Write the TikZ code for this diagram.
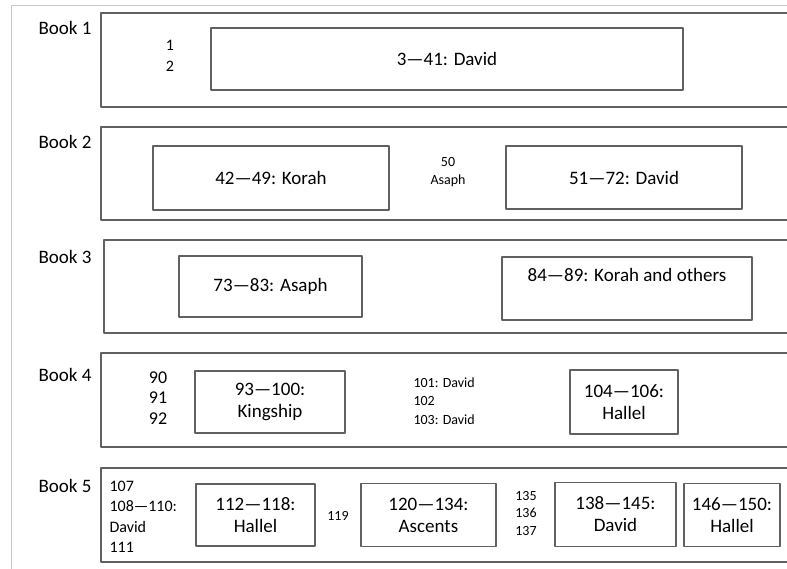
\documentclass[tikz,border=0pt]{standalone}
\usepackage{fontspec}
\setmainfont{Carlito}
\tikzset{
  psbox/.style={draw=black!62,line width=1.4pt,fill=white,align=center,inner sep=2pt},
  booklbl/.style={font=\fontsize{19}{22}\selectfont},
  smalltxt/.style={align=center,font=\fontsize{14}{17.5}\selectfont},
}
\begin{document}
\begin{tikzpicture}[x=1pt,y=-1pt,line join=round,line cap=round,font=\fontsize{19}{22}\selectfont]
\useasboundingbox (0,0) rectangle (787,568);
\clip (0,0) rectangle (787,568);
\draw[black!22,line width=1.2pt] (11.5,570)--(11.5,5.5)--(790,5.5); %%% outer frame
%%% Book 1
\node[booklbl] (l1) at (65,28) {Book 1};
\draw[black!62,line width=1.4pt] (800,13)--(101,13)--(101,107)--(800,107);
\node[align=center,font=\fontsize{16}{21}\selectfont] (p12) at (170,56) {1\\2};
\node[psbox,minimum width=472,minimum height=62] (b1david) at (447,59) {3—41: David};
%%% Book 2
\node[booklbl] (l2) at (65,142) {Book 2};
\draw[black!62,line width=1.4pt] (800,127)--(101,127)--(101,220)--(800,220);
\node[psbox,minimum width=236,minimum height=64] (b2korah) at (271,178) {42—49: Korah};
\node[smalltxt] (p50) at (448,172) {50\\Asaph};
\node[psbox,minimum width=236,minimum height=63] (b2david) at (624,177.5) {51—72: David};
%%% Book 3
\node[booklbl] (l3) at (65,257) {Book 3};
\draw[black!62,line width=1.4pt] (800,240)--(104,240)--(104,333)--(800,333);
\node[psbox,minimum width=183,minimum height=61] (b3asaph) at (270.5,286.5) {73—83: Asaph};
\node[psbox,minimum width=250,minimum height=63,text depth=33,text height=19] (b3korah) at (627,288.5) {84—89: Korah and others};
%%% Book 4
\node[booklbl] (l4) at (65,374.5) {Book 4};
\draw[black!62,line width=1.4pt] (800,353)--(101,353)--(101,447)--(800,447);
\node[align=center,font=\fontsize{18}{20.5}\selectfont] (p90) at (158,398) {90\\91\\92};
\node[psbox,minimum width=150,minimum height=62] (b4king) at (270,402) {93—100:\\Kingship};
\node[align=left,font=\fontsize{14}{18.5}\selectfont,anchor=west] (p101) at (410,401) {101: David\\102\\103: David};
\node[psbox,minimum width=108,minimum height=64] (b4hallel) at (624,402) {104—106:\\Hallel};
%%% Book 5
\node[booklbl] (l5) at (65,486) {Book 5};
\draw[black!62,line width=1.4pt] (800,468)--(101,468)--(101,562)--(800,562);
\node[align=left,font=\fontsize{16}{20.5}\selectfont,anchor=west] (p107) at (106,517) {107\\108—110:\\David\\111};
\node[psbox,minimum width=119,minimum height=62] (b5hallel) at (255.5,515) {112—118:\\Hallel};
\node[font=\fontsize{14}{17}\selectfont] (p119) at (338,516) {119};
\node[align=center,font=\fontsize{14}{17.5}\selectfont] (p135) at (526,513) {135\\136\\137};
\node[psbox,minimum width=135,minimum height=63] (b5asc) at (428.5,515) {120—134:\\Ascents};
\node[psbox,minimum width=121,minimum height=64] (b5david) at (615.5,514.5) {138—145:\\David};
\node[psbox,minimum width=96,minimum height=63] (b5hallel2) at (732,515) {146—150:\\Hallel};
\end{tikzpicture}
\end{document}
